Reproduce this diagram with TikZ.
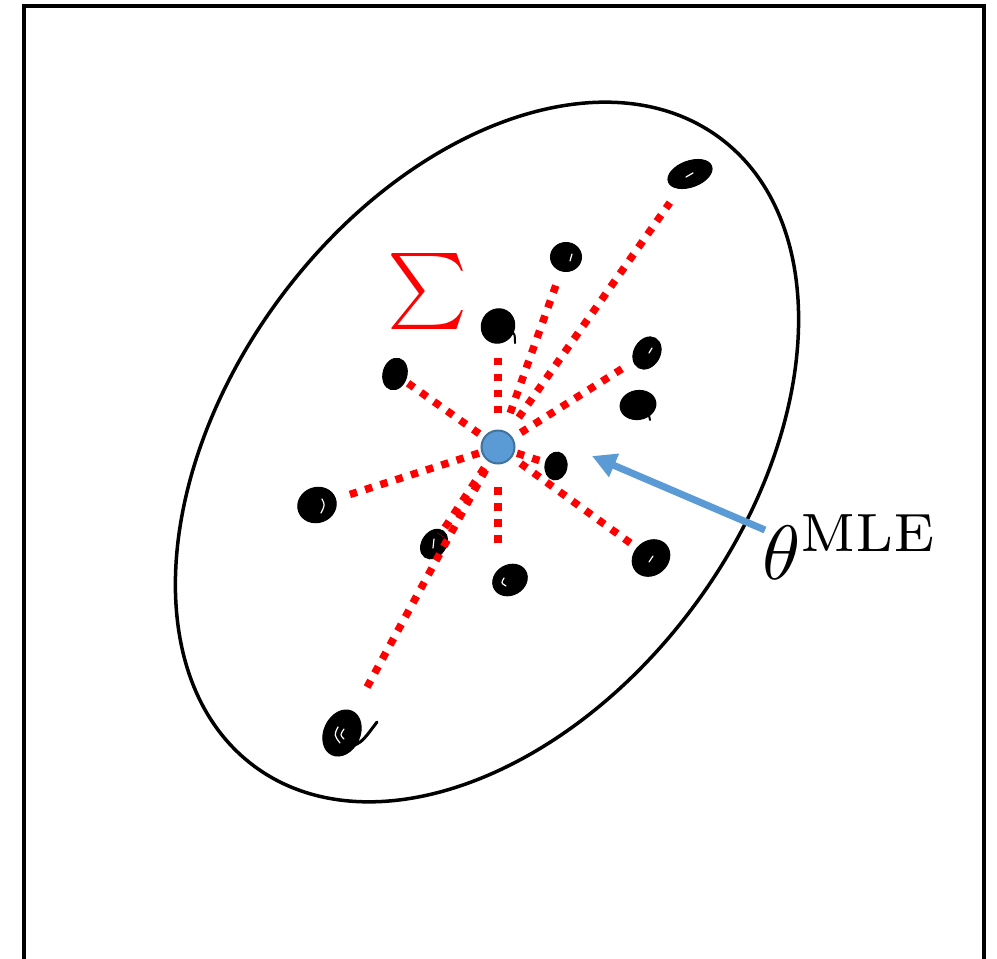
\RequirePackage{fix-cm}
\documentclass[tikz,border=0pt]{standalone}
\usepackage{amsmath}
\usepackage{graphicx}
\usetikzlibrary{arrows.meta,shapes.geometric}
\definecolor{dotblue}{HTML}{5B9BD5}
\definecolor{dotedge}{HTML}{41719C}
\begin{document}
\begin{tikzpicture}[x=1pt,y=-1pt,
  frame/.style={line width=4pt, line join=miter},
  cloud/.style={line width=3.5pt},
  blob/.style={ellipse, fill=black, draw=black, line width=1pt, inner sep=0pt},
  hl/.style={white, line width=1.2pt, line cap=round},
  ray/.style={red, line width=7.5pt, dash pattern=on 7.5pt off 8.5pt},
  pointer/.style={dotblue, line width=7pt, -{Triangle[length=24pt,width=24pt]}},
  centre/.style={circle, fill=dotblue, draw=dotedge, line width=2pt, minimum size=33pt, inner sep=0pt},
  bigmath/.style={inner sep=0pt, font=\fontsize{10}{12}\selectfont}
]
\useasboundingbox (0,0) rectangle (997,959);

% outer frame (open at the bottom edge of the page)
\draw[frame] (24,975) -- (24,5.5) -- (983.5,5.5) -- (983.5,975);

% covariance ellipse
\coordinate (mid) at (487,452);
\draw[cloud, rotate around={53.5:(mid)}] (mid) ellipse [x radius=391, y radius=258];

% sample points
\node[blob, minimum width=46pt, minimum height=26pt, rotate=20] (p1) at (690,174) {};
\node[blob, minimum width=31pt, minimum height=29pt] (p2) at (566,257) {};
\node[blob, minimum width=35pt, minimum height=33pt, rotate=60] (p3) at (498,326) {};
\node[blob, minimum width=24pt, minimum height=32pt, rotate=-15] (p4) at (395,374) {};
\node[blob, minimum width=34pt, minimum height=26pt, rotate=60] (p5) at (647,353) {};
\node[blob, minimum width=36pt, minimum height=29pt, rotate=10] (p6) at (638,405) {};
\node[blob, minimum width=22pt, minimum height=28pt, rotate=-10] (p7) at (556,466) {};
\node[blob, minimum width=39pt, minimum height=35pt, rotate=20] (p8) at (317,505) {};
\node[blob, minimum width=32pt, minimum height=24pt, rotate=55] (p9) at (434,544) {};
\node[blob, minimum width=40pt, minimum height=34pt, rotate=40] (p10) at (651,558) {};
\node[blob, minimum width=36pt, minimum height=30pt, rotate=30] (p11) at (510,580) {};
\node[blob, minimum width=48pt, minimum height=36pt, rotate=65] (p12) at (342,733) {};

% pen strokes left on some of the points
\draw[line width=3pt, line cap=round] ([shift={(8,14)}]p12.center) .. controls (362,742) .. (377,722);
\draw[line width=2pt, line cap=round] ([shift={(12,4)}]p3.center) .. controls (515,334) .. (515,343);
\draw[line width=2pt, line cap=round] ([shift={(10,6)}]p6.center) -- (650,420);
\draw[hl] ([shift={(-4,3)}]p1.center) -- ([shift={(3,-1)}]p1.center);
\draw[hl] ([shift={(6,-3)}]p2.center) -- ([shift={(4,4)}]p2.center);
\draw[hl] ([shift={(2,0)}]p5.center) -- ([shift={(5,-5)}]p5.center);
\draw[hl] ([shift={(5,-6)}]p8.center) .. controls ([shift={(8,0)}]p8.center) .. ([shift={(4,8)}]p8.center);
\draw[hl] ([shift={(-4,-6)}]p12.center) .. controls ([shift={(-8,2)}]p12.center) .. ([shift={(-2,10)}]p12.center);
\draw[hl] ([shift={(2,-4)}]p12.center) .. controls ([shift={(-2,2)}]p12.center) .. ([shift={(2,6)}]p12.center);
\draw[hl] ([shift={(0,-5)}]p9.center) -- ([shift={(-1,4)}]p9.center);
\draw[hl] ([shift={(2,-2)}]p10.center) -- ([shift={(-2,4)}]p10.center);
\draw[hl] ([shift={(-6,-2)}]p11.center) .. controls ([shift={(-9,3)}]p11.center) .. ([shift={(-4,6)}]p11.center);

% estimated mean
\node[centre] (c) at (498,447) {};

% residual rays from the mean to each point
\draw[ray, shorten <=36pt, shorten >=35pt] (c.center) -- (p1.center);
\draw[ray, shorten <=36pt, shorten >=28pt] (c.center) -- (p2.center);
\draw[ray, shorten <=34pt, shorten >=31pt] (c.center) -- (p3.center);
\draw[ray, shorten <=23pt, shorten >=16pt] (c.center) -- (p4.center);
\draw[ray, shorten <=27pt, shorten >=22pt] (c.center) -- (p5.center);
\draw[ray, shorten <=20pt, shorten >=12pt] (c.center) -- (p7.center);
\draw[ray, shorten <=20pt, shorten >=30pt] (c.center) -- (p8.center);
\draw[ray, shorten <=25pt, shorten >=11pt] (c.center) -- (p9.center);
\draw[ray, shorten <=28pt, shorten >=23pt] (c.center) -- (p10.center);
\draw[ray, shorten <=40pt, shorten >=30pt] (c.center) -- (c.center |- p11.center);
\draw[ray, shorten <=26pt, shorten >=45pt] (c.center) -- (p12.center);

% labels
\node[bigmath, text=red] (sig) at (428,291) {\scalebox{7.6}{$\sum$}};
\node[bigmath, anchor=base west] (mle) at (762,579) {\scalebox{7.7}{$\theta^{\mathrm{MLE}}$}};

% pointer to the mean
\coordinate (tail) at (765,530);
\coordinate (tip) at (592,456);
\draw[pointer] (tail) -- (tip);
\end{tikzpicture}
\end{document}
